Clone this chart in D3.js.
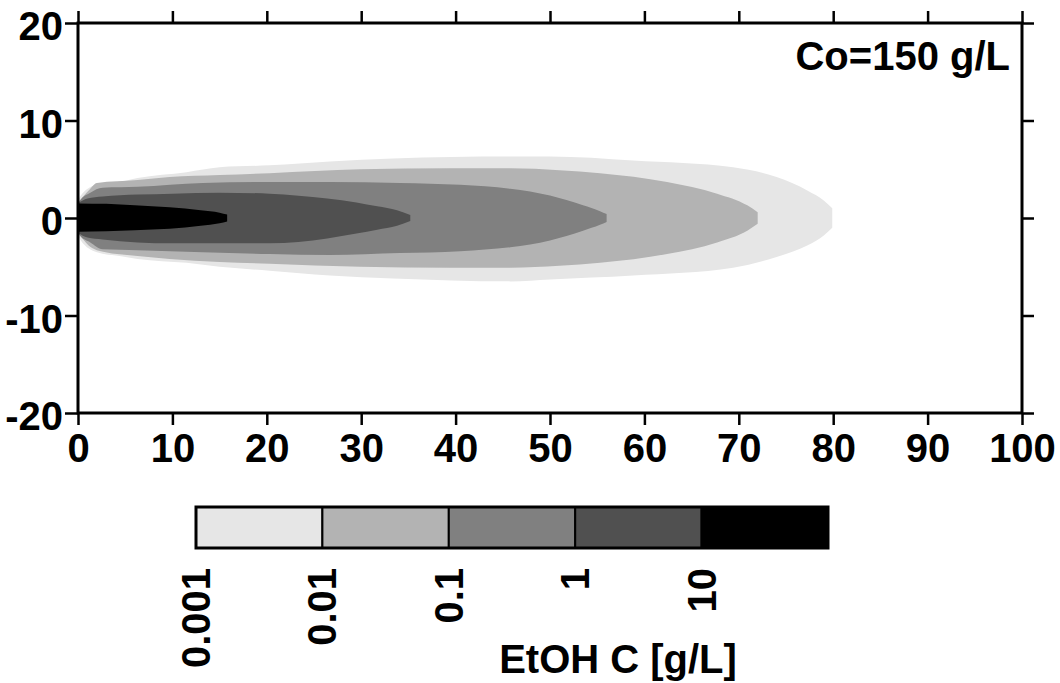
<!DOCTYPE html>
<html>
<head>
    <title>EtOH plume</title>
    <script src="https://d3js.org/d3.v7.min.js"></script>
    <style>
        body { margin: 0; background: #fff; }
        text { font-family: "Liberation Sans", Arial, sans-serif; font-weight: bold; }
    </style>
</head>
<body>
<div id="chart"></div>
<script>
// axis ticks
const xTicks = [0, 10, 20, 30, 40, 50, 60, 70, 80, 90, 100];
const yTicks = [-20, -10, 0, 10, 20];

// colour bar levels (g/L)
const levels = ["0.001", "0.01", "0.1", "1", "10"];
const bandColors = ["#e6e6e6", "#b3b3b3", "#808080", "#505050", "#000000"];

// contour outlines: [x, upper half-width, lower half-width]
const plume0001 = [
    [0, 1.8, 1.8], [0.3, 2.3, 2.3], [2.0, 3.4, 3.5], [4.4, 3.7, 3.9], [6.3, 4.1, 4.2],
    [11.5, 4.7, 4.6], [15.0, 5.2, 5.0], [20.3, 5.4, 5.4], [26.7, 5.8, 5.9], [33.4, 6.1, 6.2],
    [45.8, 6.3, 6.5], [50.0, 6.3, 6.3], [58.8, 5.9, 5.9], [69.4, 5.2, 5.1], [74.0, 4.2, 4.0],
    [77.3, 2.8, 2.8], [79.0, 1.8, 1.8], [79.9, 1.0, 1.0]
];
const plume001 = [
    [0, 1.6, 1.6], [0.2, 1.8, 1.8], [1.1, 2.8, 2.8], [2.0, 3.6, 3.3], [6.3, 3.9, 3.9],
    [9.7, 4.2, 4.2], [15.0, 4.4, 4.5], [20.3, 4.6, 4.7], [29.9, 5.0, 5.0], [39.4, 5.1, 5.1],
    [45.8, 5.1, 5.1], [51.0, 4.9, 4.9], [55.3, 4.6, 4.6], [62.4, 3.7, 3.7], [67.7, 2.5, 2.5],
    [70.9, 1.3, 1.3], [72.0, 0.6, 0.6]
];
const plume01 = [
    [0, 1.5, 1.5], [0.2, 1.8, 1.8], [1.3, 2.6, 2.5], [2.6, 3.1, 3.2], [6.3, 3.2, 3.3],
    [13.2, 3.6, 3.5], [20.3, 3.7, 3.7], [26.7, 3.7, 3.8], [34.1, 3.6, 3.6], [40.5, 3.4, 3.4],
    [45.8, 3.0, 3.0], [50.0, 2.3, 2.3], [53.5, 1.3, 1.3], [55.3, 0.7, 0.7], [56.0, 0.4, 0.4]
];
const plume1 = [
    [0, 1.5, 1.5], [1.0, 2.0, 2.0], [2.6, 2.2, 2.2], [6.3, 2.4, 2.5], [10.0, 2.5, 2.6],
    [15.0, 2.6, 2.6], [20.3, 2.5, 2.6], [26.4, 2.0, 2.1], [29.5, 1.6, 1.6], [31.7, 1.2, 1.2],
    [33.8, 0.8, 0.8], [35.2, 0.3, 0.3]
];
const plume10 = [
    [0, 1.5, 1.4], [3.0, 1.45, 1.35], [6.0, 1.3, 1.25], [9.7, 1.1, 1.1], [13.0, 0.8, 0.8],
    [15.0, 0.55, 0.55], [15.8, 0.35, 0.35]
];
const plumes = [plume0001, plume001, plume01, plume1, plume10];

const width = 1060, height = 683;
const svg = d3.select("#chart").append("svg")
    .attr("width", width)
    .attr("height", height);

const x = d3.scaleLinear().domain([0, 100]).range([78, 1022]);
const y = d3.scaleLinear().domain([-20, 20]).range([413, 23]);

// filled contour bands, lightest first
const area = d3.area()
    .x(d => x(d[0]))
    .y0(d => y(-d[2]))
    .y1(d => y(d[1]))
    .curve(d3.curveMonotoneX);

svg.append("g")
    .selectAll("path")
    .data(plumes)
    .join("path")
    .attr("d", area)
    .attr("fill", (d, i) => bandColors[i]);

// axes
const fs = 40;
const plain = d => String(d);   // keep the ascii hyphen for negatives
function styleAxis(g) {
    g.select(".domain").remove();
    g.selectAll(".tick line").attr("stroke", "#000").attr("stroke-width", 2.5);
    g.selectAll(".tick text")
        .attr("fill", "#000")
        .style("font-size", fs + "px")
        .style("font-weight", "bold")
        .style("font-family", '"Liberation Sans", Arial, sans-serif');
}

svg.append("g")
    .attr("transform", `translate(0,${y(-20)})`)
    .call(d3.axisBottom(x).tickValues(xTicks).tickFormat(plain).tickSize(12).tickSizeOuter(0).tickPadding(9))
    .call(styleAxis);

svg.append("g")
    .attr("transform", `translate(0,${y(20)})`)
    .call(d3.axisTop(x).tickValues(xTicks).tickSize(12).tickSizeOuter(0).tickFormat(""))
    .call(styleAxis);

svg.append("g")
    .attr("transform", `translate(${x(0)},0)`)
    .call(d3.axisLeft(y).tickValues(yTicks).tickFormat(plain).tickSize(13).tickSizeOuter(0).tickPadding(2))
    .call(styleAxis)
    .call(g => g.selectAll(".tick text").attr("dy", "0.42em"));

svg.append("g")
    .attr("transform", `translate(${x(100)},0)`)
    .call(d3.axisRight(y).tickValues(yTicks).tickSize(12).tickSizeOuter(0).tickFormat(""))
    .call(styleAxis);

// frame
svg.append("rect")
    .attr("x", x(0)).attr("y", y(20))
    .attr("width", x(100) - x(0))
    .attr("height", y(-20) - y(20))
    .attr("fill", "none")
    .attr("stroke", "#000")
    .attr("stroke-width", 3);

svg.append("text")
    .attr("x", 1010).attr("y", 70)
    .attr("text-anchor", "end")
    .style("font-size", fs + "px")
    .text("Co=150 g/L");

// colour bar
const barX = d3.scaleBand().domain(levels).range([196, 828]).padding(0);
const barTop = 507, barH = 41;
const bar = svg.append("g");

bar.selectAll("rect")
    .data(levels)
    .join("rect")
    .attr("x", d => barX(d))
    .attr("y", barTop)
    .attr("width", barX.bandwidth())
    .attr("height", barH)
    .attr("fill", (d, i) => bandColors[i])
    .attr("stroke", "#000")
    .attr("stroke-width", 2);

bar.append("rect")
    .attr("x", 196).attr("y", barTop)
    .attr("width", 828 - 196).attr("height", barH)
    .attr("fill", "none")
    .attr("stroke", "#000")
    .attr("stroke-width", 3);

bar.selectAll("text.lev")
    .data(levels)
    .join("text")
    .attr("class", "lev")
    .attr("text-anchor", "end")
    .attr("dy", "0.35em")
    .attr("transform", d => `translate(${barX(d)},568) rotate(-90)`)
    .style("font-size", fs + "px")
    .text(d => d);

svg.append("text")
    .attr("x", 618).attr("y", 673)
    .attr("text-anchor", "middle")
    .style("font-size", fs + "px")
    .text("EtOH C [g/L]");
</script>
</body>
</html>
